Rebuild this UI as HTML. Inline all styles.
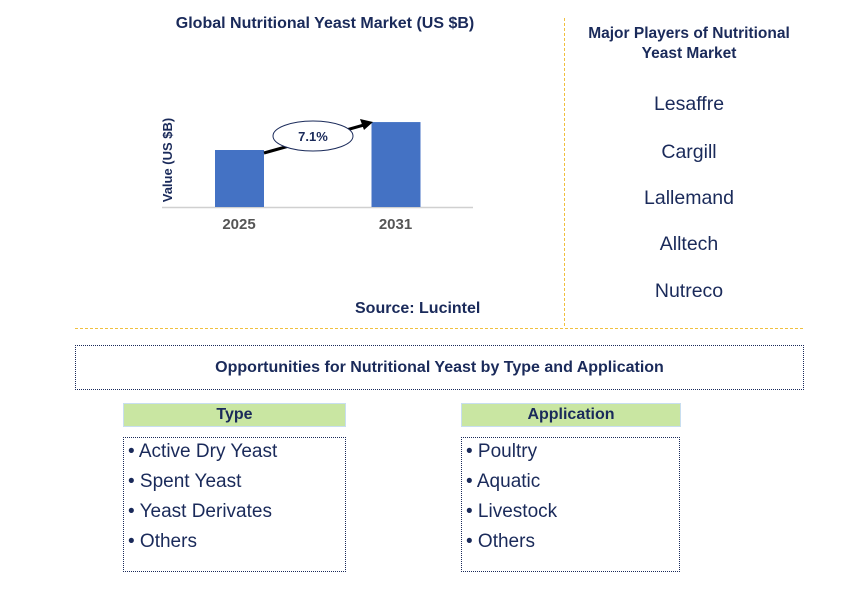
<!DOCTYPE html>
<html><head><meta charset="utf-8"><style>
body{margin:0;width:868px;height:592px;background:#fff;font-family:"Liberation Sans",Arial,sans-serif;position:relative;overflow:hidden}
.a{position:absolute}
.t{color:#1a2a5a;font-weight:bold}
.pl{position:absolute;left:566px;width:246px;text-align:center;font-size:19.5px;color:#1a2a5a}
.hd{position:absolute;background:#c9e6a2;border:1px solid #c8def0;text-align:center;font-weight:bold;color:#1a2a5a;font-size:16px;line-height:22px;height:22px}
.lst{position:absolute;border:1px dotted #1a2a5a;font-size:19px;color:#1a2a5a;box-sizing:border-box;padding-left:4px}
.lst div{height:30px;line-height:28px}
</style></head><body>
<div class="a t" style="left:120px;top:15px;width:410px;text-align:center;font-size:16px">Global Nutritional Yeast Market (US $B)</div>
<svg class="a" style="left:0;top:0" width="868" height="340">
<line x1="162" y1="207.5" x2="473" y2="207.5" stroke="#d0d0d0" stroke-width="1.5"/>
<text transform="translate(172,160) rotate(-90)" text-anchor="middle" font-size="13" font-weight="bold" fill="#1a2a5a">Value (US $B)</text>
<g id="bars"></g>
<line x1="264" y1="153" x2="364" y2="125" stroke="#000" stroke-width="3"/>
<polygon points="373,122 360,119 364,130" fill="#000"/>
<ellipse cx="313" cy="136" rx="40" ry="15" fill="#fff" stroke="#1a2a5a"/>
<text x="313" y="141" text-anchor="middle" font-size="13" font-weight="bold" fill="#1a2a5a">7.1%</text>
</svg>
<script>
const categories=["2025","2031"];
const values=[1.0,1.49];
const xs=c=>({"2025":239,"2031":395.5})[c];
const ys=v=>207-v*57;
const g=document.getElementById('bars');
const ns="http://www.w3.org/2000/svg";
categories.forEach((c,i)=>{
 const r=document.createElementNS(ns,'rect');
 r.setAttribute('x',xs(c)-24);r.setAttribute('width',49);
 r.setAttribute('y',ys(values[i]));r.setAttribute('height',207-ys(values[i]));
 r.setAttribute('fill','#4472c4');
 
 
 g.appendChild(r);
 const t=document.createElementNS(ns,'text');
 t.setAttribute('x',xs(c));t.setAttribute('y',229);t.setAttribute('text-anchor','middle');
 t.setAttribute('font-size','15');t.setAttribute('font-weight','bold');t.setAttribute('fill','#555');
 t.textContent=c;
 
 
 g.appendChild(t);
});
</script>
<div class="a t" style="left:355px;top:300px;font-size:16px">Source: Lucintel</div>
<div class="a" style="left:564px;top:18px;height:308px;border-left:1px dashed #f0c040"></div>
<div class="a" style="left:75px;top:328px;width:728px;border-top:1px dashed #f0c040"></div>
<div class="a t" style="left:556px;top:24px;width:266px;text-align:center;font-size:15.5px;line-height:20px">Major Players of Nutritional<br>Yeast Market</div>
<div class="pl" style="top:93px">Lesaffre</div>
<div class="pl" style="top:141px">Cargill</div>
<div class="pl" style="top:187px">Lallemand</div>
<div class="pl" style="top:233px">Alltech</div>
<div class="pl" style="top:280px">Nutreco</div>
<div class="a t" style="left:75px;top:345px;width:727px;height:43px;border:1px dotted #1a2a5a;text-align:center;line-height:43px;font-size:16px">Opportunities for Nutritional Yeast by Type and Application</div>
<div class="hd" style="left:123px;top:403px;width:221px">Type</div>
<div class="hd" style="left:461px;top:403px;width:218px">Application</div>
<div class="lst" style="left:123px;top:437px;width:223px;height:135px">
<div>• Active Dry Yeast</div><div>• Spent Yeast</div><div>• Yeast Derivates</div><div>• Others</div></div>
<div class="lst" style="left:461px;top:437px;width:219px;height:135px">
<div>• Poultry</div><div>• Aquatic</div><div>• Livestock</div><div>• Others</div></div>
</body></html>
